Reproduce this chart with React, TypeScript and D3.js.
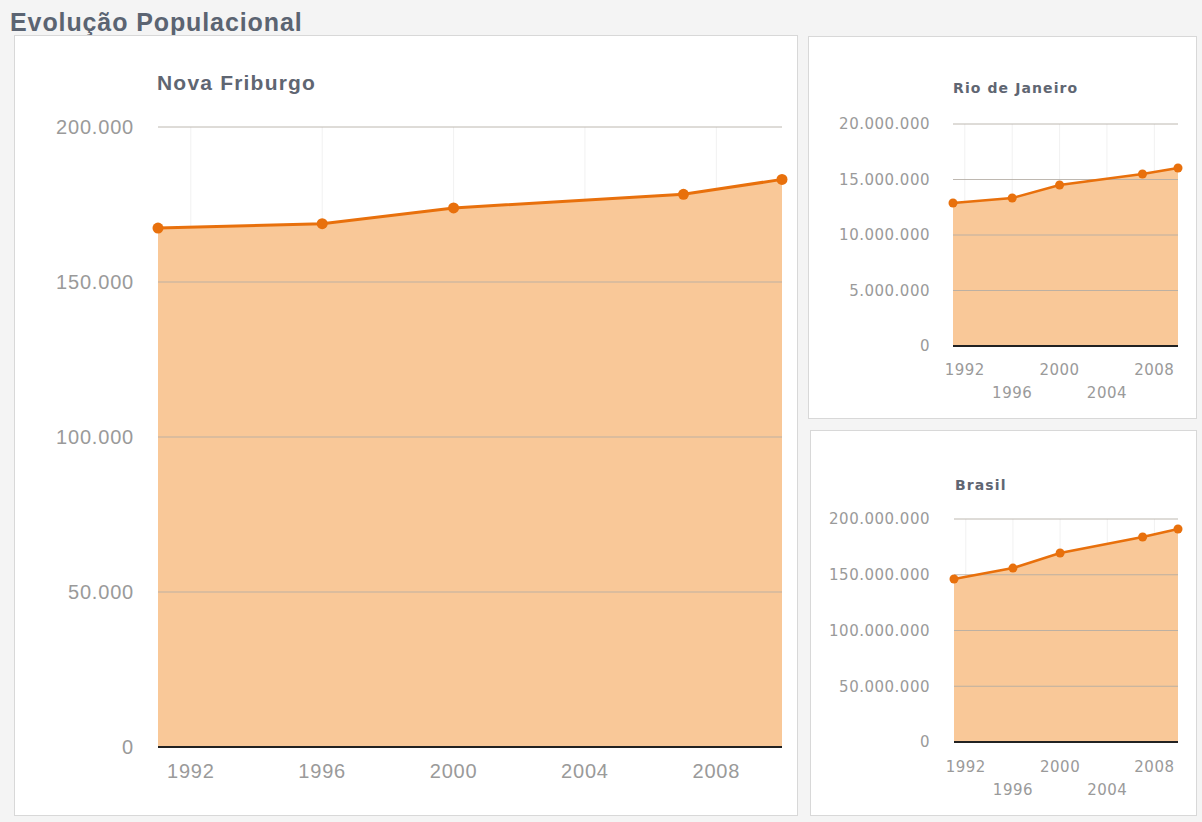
import React from "react";
import * as d3 from "d3";

const years = [1991, 1996, 2000, 2007, 2010];
const novaFriburgo = [167400, 168800, 173900, 178300, 183100];
const rioDeJaneiro = [12880000, 13330000, 14500000, 15500000, 16040000];
const brasil = [146200000, 156000000, 169500000, 183900000, 191000000];
const tickYears = [1992, 1996, 2000, 2004, 2008];
const nfTicks = [0, 50000, 100000, 150000, 200000];
const rjTicks = [0, 5000000, 10000000, 15000000, 20000000];
const brTicks = [0, 50000000, 100000000, 150000000, 200000000];

const fmt = (v: number) => d3.format(",")(v).replace(/,/g, ".");

const FONT = "'Liberation Sans', Arial, Helvetica, sans-serif";
const FONT_S = "'DejaVu Sans', Verdana, sans-serif";
const LINE = "#e8700c";
const FILL = "#f9c898";

type PanelProps = {
  title: string;
  values: number[];
  ticks: number[];
  x0: number; x1: number; y0: number; y1: number;
  titleX: number; titleY: number; titleSize: number; titleFont: string; titleSpacing: number;
  labelSize: number; labelRight: number; labelFont: string; labelSpacing: number;
  staggered: boolean; xLabelY: number; xLabelY2?: number;
  r: number; lw: number;
};

function Panel(p: PanelProps) {
  const x = d3.scaleLinear().domain([1991, 2010]).range([p.x0, p.x1]);
  const y = d3.scaleLinear().domain([0, p.ticks[p.ticks.length - 1]]).range([p.y0, p.y1]);
  const pts = years.map((yr, i) => [yr, p.values[i]] as [number, number]);
  const area = d3.area<[number, number]>().x(d => x(d[0])).y0(y(0)).y1(d => y(d[1]))(pts) || "";
  const line = d3.line<[number, number]>().x(d => x(d[0])).y(d => y(d[1]))(pts) || "";
  return (
    <g>
      <text x={p.titleX} y={p.titleY} fontFamily={p.titleFont} fontSize={p.titleSize} fontWeight="bold"
        letterSpacing={p.titleSpacing} fill="#5f6672">{p.title}</text>
      {tickYears.map(t => (
        <line key={"v" + t} x1={x(t)} x2={x(t)} y1={y(p.ticks[p.ticks.length - 1])} y2={y(0)} stroke="#f1f1f1" strokeWidth={1} />
      ))}
      <path d={area} fill={FILL} />
      {p.ticks.map(t => (
        <g key={"t" + t}>
          {t !== 0 && <line x1={p.x0} x2={p.x1} y1={y(t)} y2={y(t)} stroke="#b3aca4" strokeWidth={1} opacity={0.85} />}
          <text x={p.labelRight} y={y(t)} dy="0.35em" textAnchor="end" fontFamily={p.labelFont}
            fontSize={p.labelSize} letterSpacing={p.labelSpacing} fill="#9a9a9a">{fmt(t)}</text>
        </g>
      ))}
      <line x1={p.x0} x2={p.x1} y1={y(0)} y2={y(0)} stroke="#222" strokeWidth={2} />
      <path d={line} fill="none" stroke={LINE} strokeWidth={p.lw} />
      {pts.map((d, i) => (
        <circle key={"c" + i} cx={x(d[0])} cy={y(d[1])} r={p.r} fill={LINE} />
      ))}
      {tickYears.map((t, i) => (
        <text key={"x" + t} x={x(t)} y={p.staggered && i % 2 === 1 ? p.xLabelY2 : p.xLabelY}
          textAnchor="middle" fontFamily={p.labelFont} fontSize={p.labelSize}
          letterSpacing={p.labelSpacing} fill="#9a9a9a">{t}</text>
      ))}
    </g>
  );
}

export default function App() {
  return (
    <svg width={1202} height={822} style={{ position: "absolute", left: 0, top: 0 }}>
      <rect x={0} y={0} width={1202} height={822} fill="#f4f4f4" />
      <text x={10} y={31} fontFamily={FONT} fontSize={25} fontWeight="bold" letterSpacing={0.9} fill="#5b6472">Evolução Populacional</text>
      <rect x={14.5} y={35.5} width={783} height={780} fill="#fff" stroke="#d8d8d8" />
      <rect x={808.5} y={36.5} width={388} height={382} fill="#fff" stroke="#d8d8d8" />
      <rect x={810.5} y={430.5} width={386} height={385} fill="#fff" stroke="#d8d8d8" />
      <Panel title="Nova Friburgo" values={novaFriburgo} ticks={nfTicks}
        x0={158} x1={782} y0={747} y1={127}
        titleX={157} titleY={90} titleSize={21} titleFont={FONT} titleSpacing={1.2}
        labelSize={20} labelRight={134} labelFont={FONT} labelSpacing={0.8}
        staggered={false} xLabelY={778} r={5.5} lw={3} />
      <Panel title="Rio de Janeiro" values={rioDeJaneiro} ticks={rjTicks}
        x0={953} x1={1178} y0={346} y1={124}
        titleX={953} titleY={93} titleSize={14} titleFont={FONT_S} titleSpacing={1.1}
        labelSize={15} labelRight={930} labelFont={FONT_S} labelSpacing={0.5}
        staggered={true} xLabelY={375} xLabelY2={398} r={4.5} lw={2.5} />
      <Panel title="Brasil" values={brasil} ticks={brTicks}
        x0={954} x1={1178} y0={742} y1={519}
        titleX={955} titleY={490} titleSize={14} titleFont={FONT_S} titleSpacing={1.1}
        labelSize={15} labelRight={930} labelFont={FONT_S} labelSpacing={0.5}
        staggered={true} xLabelY={772} xLabelY2={795} r={4.5} lw={2.5} />
    </svg>
  );
}
